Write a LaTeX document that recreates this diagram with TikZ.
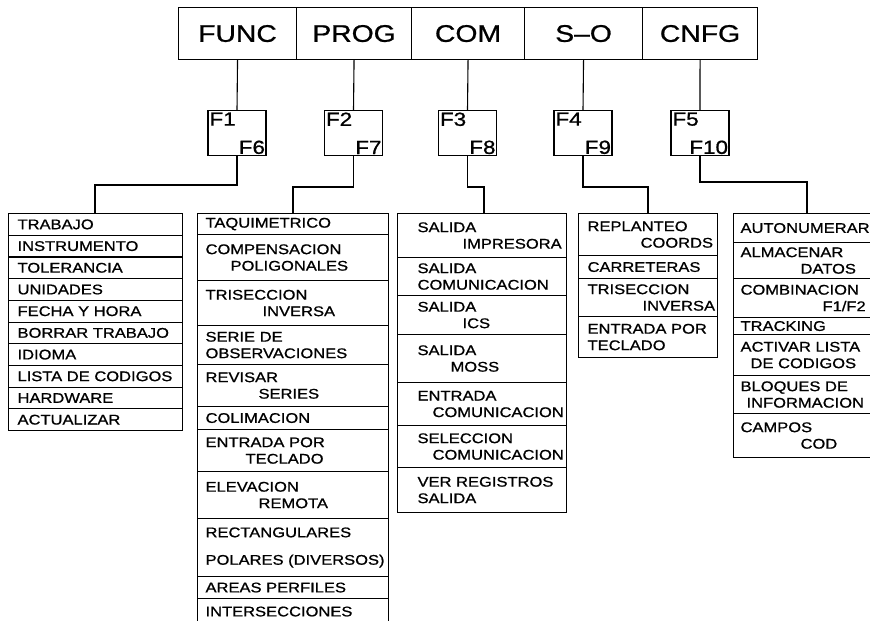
\documentclass[tikz,border=0pt]{standalone}
\usepackage{fontspec}
\setmainfont{Liberation Sans}[FakeStretch=1.18,FakeBold=0.9]
\newcommand\crow[7]{% name, x, y, w, h, pad, text
  \node[cell, minimum width=#4pt, minimum height=#5pt] (#1) at (#2,#3) {};
  \node[celltext] (#1t) at ([xshift=#6pt]#1.west) {#7};
}
\begin{document}
\begin{tikzpicture}[x=1pt,y=-1pt,line width=1.1pt,
  bar/.style={draw, minimum height=52pt, inner sep=0pt, anchor=north west,
    font=\fontsize{24}{28}\selectfont},
  fkey/.style={draw, minimum width=58pt, minimum height=45pt, inner sep=0pt, anchor=north},
  fkt/.style={inner sep=2pt, font=\fontsize{19}{22}\selectfont},
  cell/.style={draw, inner sep=0pt, anchor=north west},
  celltext/.style={anchor=west, inner sep=0pt, align=left,
    font=\fontsize{14}{16.5}\selectfont},
  link/.style={draw, line width=1.1pt}]
\useasboundingbox (0,0) rectangle (870,621);
\fill[white] (0,0) rectangle (870,621);

% top bar
\node[bar, minimum width=118pt] (func) at (178,7) {FUNC};
\node[bar, minimum width=115pt] (prog) at (296,7) {PROG};
\node[bar, minimum width=113pt] (com)  at (411,7) {COM};
\node[bar, minimum width=118pt] (so)   at (524,7) {S–O};
\node[bar, minimum width=115pt] (cnfg) at (642,7) {CNFG};

% F keys
\node[fkey] (f1) at (237,110) {};
\node[fkey] (f2) at (353.5,110) {};
\node[fkey] (f3) at (467.5,110) {};
\node[fkey] (f4) at (583,110) {};
\node[fkey] (f5) at (700,110) {};
\foreach \k/\a/\b in {1/F1/F6, 2/F2/F7, 3/F3/F8, 4/F4/F9, 5/F5/F10}{
  \node[fkt, anchor=north west, inner xsep=1.5pt] (f\k a) at (f\k.north west) {\a};
  \node[fkt, anchor=south east, inner xsep=1pt, inner ysep=1.5pt] (f\k b) at (f\k.south east) {\b};
}
\foreach \t/\k in {func/1, prog/2, com/3, so/4, cnfg/5}
  \draw[link] (\t.south) -- (f\k.north);

% column FUNC
\crow{a1}{8}{213}{174}{21.7}{9}{TRABAJO}
\crow{a2}{8}{234.7}{174}{21.7}{9}{INSTRUMENTO}
\crow{a3}{8}{256.4}{174}{21.7}{9}{TOLERANCIA}
\crow{a4}{8}{278.1}{174}{21.7}{9}{UNIDADES}
\crow{a5}{8}{299.8}{174}{21.7}{9}{FECHA Y HORA}
\crow{a6}{8}{321.5}{174}{21.7}{9}{BORRAR TRABAJO}
\crow{a7}{8}{343.2}{174}{21.7}{9}{IDIOMA}
\crow{a8}{8}{364.9}{174}{21.7}{9}{LISTA DE CODIGOS}
\crow{a9}{8}{386.6}{174}{21.7}{9}{HARDWARE}
\crow{a10}{8}{408.3}{174}{21.7}{9}{ACTUALIZAR}

% column PROG
\crow{b1}{197}{213}{191}{21}{8}{TAQUIMETRICO}
\crow{b2}{197}{234}{191}{46}{8}{COMPENSACION\\\hspace*{25pt}POLIGONALES}
\crow{b3}{197}{280}{191}{45}{8}{TRISECCION\\\hspace*{57pt}INVERSA}
\crow{b4}{197}{325}{191}{39}{8}{SERIE DE\\OBSERVACIONES}
\crow{b5}{197}{364}{191}{42}{8}{REVISAR\\\hspace*{53pt}SERIES}
\crow{b6}{197}{406}{191}{23}{8}{COLIMACION}
\crow{b7}{197}{429}{191}{42}{8}{ENTRADA POR\\\hspace*{40pt}TECLADO}
\crow{b8}{197}{471}{191}{47}{8}{ELEVACION\\\hspace*{53pt}REMOTA}
\crow{b9}{197}{518}{191}{58}{8}{RECTANGULARES\\[11pt]POLARES (DIVERSOS)}
\crow{b10}{197}{576}{191}{22}{8}{AREAS PERFILES}
\crow{b11}{197}{598}{191}{26}{8}{INTERSECCIONES}

% column COM
\crow{c1}{397}{213}{169}{44}{20}{SALIDA\\\hspace*{45pt}IMPRESORA}
\crow{c2}{397}{257}{169}{38}{20}{SALIDA\\COMUNICACION}
\crow{c3}{397}{295}{169}{39}{20}{SALIDA\\\hspace*{45pt}ICS}
\crow{c4}{397}{334}{169}{48}{20}{SALIDA\\\hspace*{33pt}MOSS}
\crow{c5}{397}{382}{169}{43}{20}{ENTRADA\\\hspace*{15pt}COMUNICACION}
\crow{c6}{397}{425}{169}{42}{20}{SELECCION\\\hspace*{15pt}COMUNICACION}
\crow{c7}{397}{467}{169}{45}{20}{VER REGISTROS\\SALIDA}

% column S-O
\crow{d1}{578}{213}{139}{42}{9}{REPLANTEO\\\hspace*{53pt}COORDS}
\crow{d2}{578}{255}{139}{23}{9}{CARRETERAS}
\crow{d3}{578}{278}{139}{38}{9}{TRISECCION\\\hspace*{55pt}INVERSA}
\crow{d4}{578}{316}{139}{41}{9}{ENTRADA POR\\TECLADO}

% column CNFG
\crow{e1}{733}{213}{150}{29}{7}{AUTONUMERAR}
\crow{e2}{733}{242}{150}{36}{7}{ALMACENAR\\\hspace*{60pt}DATOS}
\crow{e3}{733}{278}{150}{39}{7}{COMBINACION\\\hspace*{82pt}F1/F2}
\crow{e4}{733}{317}{150}{17}{7}{TRACKING}
\crow{e5}{733}{334}{150}{41}{7}{ACTIVAR LISTA\\\hspace*{10pt}DE CODIGOS}
\crow{e6}{733}{375}{150}{38}{7}{BLOQUES DE\\\hspace*{6pt}INFORMACION}
\crow{e7}{733}{413}{150}{44}{7}{CAMPOS\\\hspace*{60pt}COD}

% connectors F-keys to columns
\coordinate (inA) at (95,213);
\coordinate (inB) at (293,213);
\coordinate (inC) at (484,213);
\coordinate (inD) at (648,213);
\coordinate (inE) at (807,213);
\draw[link] (f1.south) -- (f1.south |- 0,185) -| (inA);
\draw[link] (f2.south) -- (f2.south |- 0,187) -| (inB);
\draw[link] (f3.south) -- (f3.south |- 0,187) -| (inC);
\draw[link] (f4.south) -- (f4.south |- 0,187) -| (inD);
\draw[link] (f5.south) -- (f5.south |- 0,182) -| (inE);
\end{tikzpicture}
\end{document}
